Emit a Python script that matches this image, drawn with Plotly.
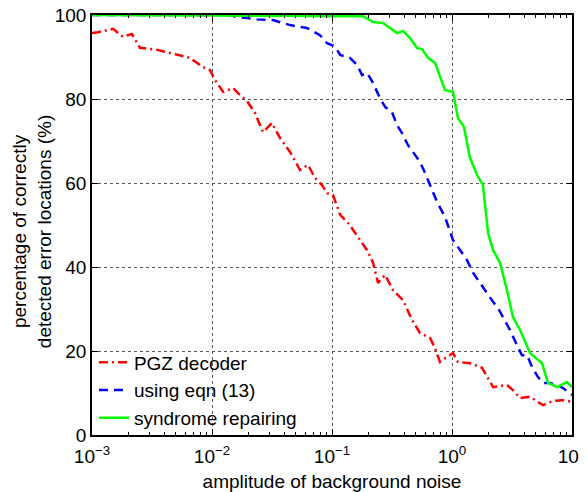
import plotly.graph_objects as go

# noise amplitude (x) and percentage (y)
pgz_x = [0.001, 0.00112, 0.0015, 0.00181, 0.00215, 0.00251, 0.00348, 0.0051, 0.00656, 0.0084,
         0.0096, 0.0106, 0.0124, 0.015, 0.0165, 0.0196, 0.0228, 0.0266, 0.0316, 0.0369,
         0.0447, 0.0541, 0.0631, 0.0722, 0.0825, 0.0909, 0.102, 0.117, 0.141, 0.150,
         0.171, 0.196, 0.22, 0.242, 0.277, 0.322, 0.391, 0.464, 0.541, 0.656,
         0.722, 0.794, 0.875, 1.02, 1.12, 1.41, 1.78, 1.96, 2.2, 2.87,
         3.22, 3.69, 4.47, 5.73, 6.95, 8.41, 10.0]
pgz_y = [95.7, 95.9, 96.7, 94.8, 95.5, 92.2, 91.7, 90.5, 89.8, 87.6,
         86.9, 84.5, 81.7, 82.6, 81.4, 79.5, 76.7, 72.1, 74.3, 70.7,
         67.4, 63.1, 64.3, 61.2, 59.5, 57.6, 57.1, 52.4, 50.0, 48.8,
         46.4, 44.0, 41.0, 36.2, 38.1, 34.5, 32.1, 27.4, 24.3, 23.1,
         20.7, 17.4, 18.3, 19.5, 17.4, 17.1, 16.0, 13.8, 11.4, 11.9,
         10.7, 8.8, 9.1, 7.1, 8.1, 8.3, 7.9]

eqn_x = [0.001, 0.0141, 0.0162, 0.0237, 0.0322, 0.0447, 0.0619, 0.0794, 0.0909, 0.106,
         0.117, 0.141, 0.162, 0.178, 0.196, 0.22, 0.251, 0.277, 0.316, 0.348,
         0.383, 0.43, 0.492, 0.541, 0.596, 0.656, 0.75, 0.875, 1.02, 1.17,
         1.33, 1.5, 1.71, 1.96, 2.2, 2.42, 2.66, 3.04, 3.48, 3.83,
         4.22, 4.64, 5.21, 5.73, 6.56, 7.5, 8.41, 10.0]
eqn_y = [100, 100, 99.5, 99.0, 98.8, 97.6, 96.9, 95.2, 93.3, 92.5,
         90.5, 89.8, 88.1, 85.7, 86.2, 83.8, 80.2, 78.1, 76.9, 73.8,
         71.9, 69.0, 66.7, 65.0, 62.4, 59.5, 55.5, 51.9, 46.4, 44.0,
         41.7, 38.6, 36.2, 34.0, 31.7, 30.2, 28.1, 25.0, 21.4, 19.0,
         19.0, 16.2, 13.8, 12.4, 12.4, 11.9, 11.2, 9.5]

syn_x = [0.001, 0.181, 0.22, 0.266, 0.348, 0.391, 0.447, 0.511, 0.562, 0.631,
         0.722, 0.794, 0.875, 1.02, 1.12, 1.26, 1.41, 1.62, 1.81, 1.95,
         2.0, 2.2, 2.51, 2.87, 3.22, 3.69, 4.47, 5.62, 6.31, 7.5,
         9.08, 10.0]
syn_y = [100, 99.7, 98.3, 98.1, 95.7, 96.2, 94.5, 92.1, 91.9, 89.8,
         88.6, 85.2, 82.1, 81.7, 75.5, 73.3, 66.0, 61.9, 59.5, 51.0,
         48.0, 44.0, 41.0, 34.5, 28.1, 25.0, 19.5, 17.1, 12.4, 11.4,
         12.6, 11.4]

x_tickvals = [0.001, 0.01, 0.1, 1, 10]
x_ticktext = ["10<sup>−3</sup>", "10<sup>−2</sup>", "10<sup>−1</sup>", "10<sup>0</sup>", "10<sup>1</sup>"]
x_minor = [m * d for d in [0.001, 0.01, 0.1, 1] for m in range(2, 10)]
y_tickvals = [0, 20, 40, 60, 80, 100]

x_title = "amplitude of background noise"
y_title = "percentage of correctly<br>detected error locations (%)"

FONT = "Liberation Sans, Arial, sans-serif"

fig = go.Figure()
fig.add_trace(go.Scatter(x=pgz_x, y=pgz_y, mode="lines", name="PGZ decoder",
                         line=dict(color="#FF0000", width=2.5, dash="9px,4px,2px,4px")))
fig.add_trace(go.Scatter(x=eqn_x, y=eqn_y, mode="lines", name="using eqn (13)",
                         line=dict(color="#0000FF", width=2.5, dash="9px,6px")))
fig.add_trace(go.Scatter(x=syn_x, y=syn_y, mode="lines", name="syndrome repairing",
                         line=dict(color="#00FF00", width=2.5)))

# the page body has an 8px margin, so the figure is sized/offset to compensate
fig.update_layout(
    width=579, height=484,
    margin=dict(l=84, r=15, t=7, b=57),
    paper_bgcolor="white", plot_bgcolor="white",
    font=dict(family=FONT, size=19, color="black"),
    showlegend=True,
    legend=dict(x=0.004, y=-0.006, xanchor="left", yanchor="bottom",
                bgcolor="rgba(0,0,0,0)", font=dict(size=19), tracegroupgap=0,
                itemwidth=30),
)
fig.update_xaxes(
    type="log", range=[-3, 1], automargin=False,
    tickmode="array", tickvals=x_tickvals, ticktext=x_ticktext,
    ticks="inside", ticklen=6, tickcolor="black", tickwidth=1,
    showline=True, linecolor="black", linewidth=1.5, mirror="allticks",
    showgrid=True, gridcolor="#555555", griddash="dot", gridwidth=1,
    minor=dict(tickmode="array", tickvals=x_minor, ticks="inside", ticklen=3,
               tickcolor="black", showgrid=False),
    tickfont=dict(size=19), ticklabelstandoff=3, ticklabeloverflow="allow",
    title=dict(text=x_title, font=dict(size=19), standoff=9),
    zeroline=False,
)
fig.update_yaxes(
    range=[0, 100], automargin=False,
    tickmode="array", tickvals=y_tickvals,
    ticks="inside", ticklen=6, tickcolor="black", tickwidth=1,
    showline=True, linecolor="black", linewidth=1.5, mirror="allticks",
    showgrid=True, gridcolor="#555555", griddash="dot", gridwidth=1,
    tickfont=dict(size=19), ticklabeloverflow="allow",
    zeroline=False,
)
fig.add_annotation(text=y_title, xref="paper", yref="paper", x=-0.125, y=0.483,
                   xanchor="center", yanchor="middle", textangle=-90, showarrow=False,
                   font=dict(size=19, family=FONT))

fig.write_html("out.html")
